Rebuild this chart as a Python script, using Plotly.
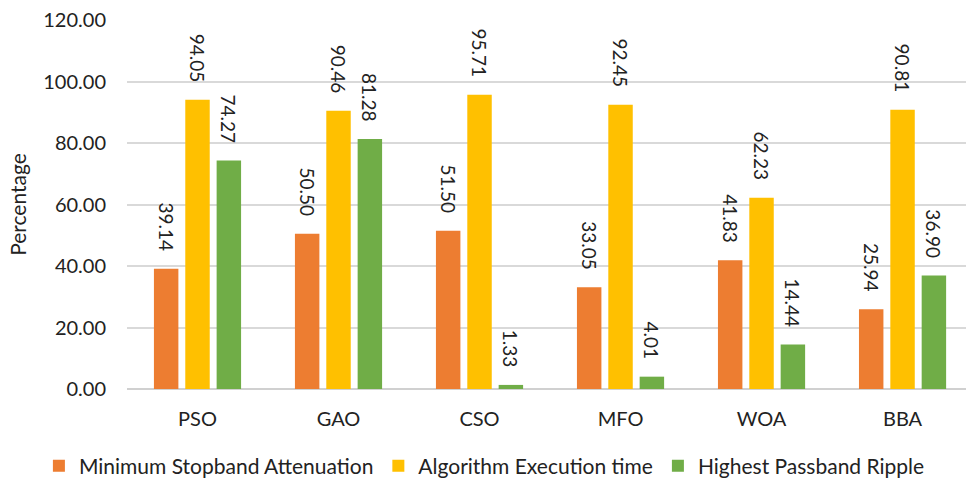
import plotly.graph_objects as go

algorithms = ["PSO", "GAO", "CSO", "MFO", "WOA", "BBA"]
stopband = [39.14, 50.50, 51.50, 33.05, 41.83, 25.94]
exec_time = [94.05, 90.46, 95.71, 92.45, 62.23, 90.81]
ripple = [74.27, 81.28, 1.33, 4.01, 14.44, 36.90]

series = [
    ("Minimum Stopband Attenuation", stopband, "#ED7D31"),
    ("Algorithm Execution time", exec_time, "#FFC000"),
    ("Highest Passband Ripple", ripple, "#70AD47"),
]

FONT = "Lato, 'Open Sans', sans-serif"
PAD = "\u00a0" * 3

fig = go.Figure()
for name, vals, color in series:
    fig.add_trace(go.Bar(
        x=algorithms,
        y=vals,
        name=name,
        marker=dict(color=color, line=dict(width=0)),
        text=[f"{v:.2f}{PAD}" for v in vals],
        textposition="outside",
        textangle=90,
        constraintext="none",
        cliponaxis=False,
        textfont=dict(family=FONT, size=19, color="#222222"),
    ))

fig.update_layout(
    width=966,
    height=479,
    margin=dict(l=127, r=0, t=20, b=90, autoexpand=False),
    paper_bgcolor="white",
    plot_bgcolor="white",
    barmode="group",
    bargap=0.333,
    bargroupgap=0.22,
    font=dict(family=FONT, size=20, color="#222222"),
    xaxis=dict(
        range=[-0.5, 5.45],
        showgrid=False,
        showline=False,
        ticks="",
        tickfont=dict(size=20),
        ticklabelstandoff=16,
    ),
    yaxis=dict(
        range=[0, 120],
        dtick=20,
        tickformat=".2f",
        showgrid=True,
        gridcolor="#d9d9d9",
        gridwidth=1.5,
        zeroline=True,
        zerolinecolor="#d0d0d0",
        zerolinewidth=1.5,
        ticks="",
        tickfont=dict(size=20),
        ticklabelstandoff=20,
        title=dict(text="Percentage", font=dict(size=21), standoff=10),
    ),
    # legend sits left of and below the plot area so it may span the full width
    legend=dict(
        orientation="h",
        xref="paper",
        yref="paper",
        x=-0.105,
        xanchor="left",
        y=-0.209,
        yanchor="middle",
        font=dict(size=21),
        itemwidth=30,
        traceorder="normal",
    ),
    showlegend=True,
)

fig.write_html("out.html")
